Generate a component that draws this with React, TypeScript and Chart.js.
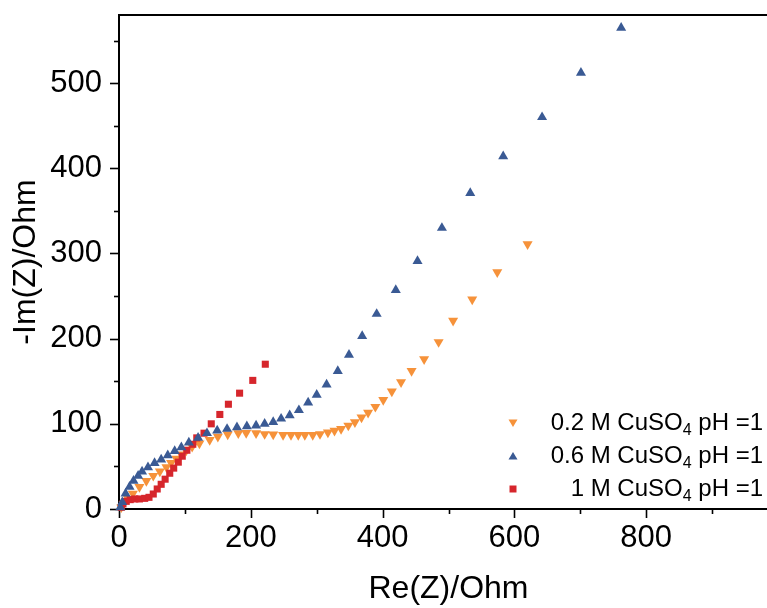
import React, { useEffect, useRef } from 'react';
import { Chart, registerables } from 'chart.js';

Chart.register(...registerables);

// 0.2 M CuSO4 pH = 1 (orange, down triangles)
const orangeRe = [3.5, 7, 14, 21, 31, 41.5, 52, 62, 72, 79, 87, 94.6, 102, 111, 122, 137.6, 150, 165, 181, 193, 208, 221, 234, 249, 261, 272, 282, 294, 305, 317, 327, 337, 348, 358, 368, 378, 389, 401, 414, 428, 444, 463, 485, 507, 536, 574, 620];
const orangeIm = [2, 6, 12, 18, 26, 33, 39, 44, 49, 54, 59, 64, 68.6, 73, 77, 81, 85, 87.5, 89, 89.4, 89, 88, 87.5, 87, 87, 87, 87, 87, 88, 90, 92, 94, 98, 102, 107.5, 113, 120, 128, 138, 149, 162, 176, 196, 221, 246, 278, 311];

// 0.6 M CuSO4 pH = 1 (blue, up triangles)
const blueRe = [2, 5, 10, 16, 22, 29, 35, 44, 54, 64, 74, 84.5, 94.6, 106, 120, 133.5, 149, 164, 179, 194, 208, 221, 234, 246, 259, 273, 287, 300, 315, 332, 349, 369, 391, 420, 453, 490, 533, 583, 642, 701, 762];
const blueIm = [2, 8, 18, 26, 33, 39, 44, 49, 54, 58, 63, 68, 72.5, 78, 83.5, 89, 92, 94, 96, 97, 98, 100, 102, 106, 110, 116, 125, 134, 146, 162, 181, 203, 229, 257, 291, 330, 371, 414, 460, 512, 565];

// 1 M CuSO4 pH = 1 (red, squares)
const redRe = [3.5, 6, 11, 17, 24, 31, 39, 45.5, 52, 58, 64, 70, 77, 83, 90, 96, 103, 112, 118, 129, 140, 153, 166, 183, 203, 222];
const redIm = [2, 6, 9, 11, 11.8, 11.8, 12.5, 13.7, 17.6, 23.5, 29, 35, 42, 48, 55, 62, 69, 76, 83.5, 89, 100, 111, 123, 136, 151, 170];

const xTickValues = [0, 200, 400, 600, 800];
const yTickValues = [0, 100, 200, 300, 400, 500];
const xMinorStep = 100;
const yMinorStep = 50;

const legendPre = ['0.2 M CuSO', '0.6 M CuSO', '1 M CuSO'];
const legendSub = ['4', '4', '4'];
const legendPost = [' pH =1', ' pH =1', ' pH =1'];

const ORANGE = '#F6923A';
const BLUE = '#3A5A94';
const RED = '#D6262C';
const FONT = '"Liberation Sans", Arial, Helvetica, sans-serif';

function toPoints(xs: number[], ys: number[]) {
  return xs.map((x, i) => ({ x, y: ys[i] }));
}

export default function App() {
  const ref = useRef<HTMLCanvasElement | null>(null);

  useEffect(() => {
    if (!ref.current) return;

    const framePlugin = {
      id: 'frame',
      beforeDatasetsDraw(chart: any) {
        const { ctx, chartArea, scales } = chart;
        const { left, right, top, bottom } = chartArea;
        ctx.save();
        ctx.strokeStyle = '#000';
        ctx.lineWidth = 2;
        ctx.beginPath();
        ctx.moveTo(left, top);
        ctx.lineTo(right, top);
        ctx.lineTo(right, bottom);
        ctx.lineTo(left, bottom);
        ctx.closePath();
        ctx.stroke();
        ctx.lineWidth = 1.6;
        const xs = scales.x;
        for (let v = xs.min; v <= xs.max + 1e-6; v += xMinorStep) {
          const px = Math.round(xs.getPixelForValue(v)) + 0.5;
          const major = Math.abs(v % 200) < 1e-6;
          ctx.beginPath();
          ctx.moveTo(px, bottom);
          ctx.lineTo(px, bottom + (major ? 9 : 5));
          ctx.stroke();
        }
        const ys = scales.y;
        for (let v = ys.min; v <= ys.max + 1e-6; v += yMinorStep) {
          const py = Math.round(ys.getPixelForValue(v)) + 0.5;
          const major = Math.abs(v % 100) < 1e-6;
          ctx.beginPath();
          ctx.moveTo(left, py);
          ctx.lineTo(left - (major ? 9 : 5), py);
          ctx.stroke();
        }
        ctx.restore();
      },
    };

    const legendPlugin = {
      id: 'customLegend',
      afterDraw(chart: any) {
        const { ctx } = chart;
        const rows = [423, 456, 489];
        const colors = [ORANGE, BLUE, RED];
        const rightX = 763;
        const markerX = 513;
        ctx.save();
        for (let i = 0; i < 3; i++) {
          const y = rows[i];
          ctx.fillStyle = colors[i];
          ctx.beginPath();
          if (i === 0) {
            ctx.moveTo(markerX - 4.5, y - 3.5);
            ctx.lineTo(markerX + 4.5, y - 3.5);
            ctx.lineTo(markerX, y + 4);
            ctx.closePath();
          } else if (i === 1) {
            ctx.moveTo(markerX - 4.5, y + 3.5);
            ctx.lineTo(markerX + 4.5, y + 3.5);
            ctx.lineTo(markerX, y - 4);
            ctx.closePath();
          } else {
            ctx.rect(markerX - 3.5, y - 3.5, 7, 7);
          }
          ctx.fill();
          ctx.fillStyle = '#000';
          ctx.textBaseline = 'middle';
          ctx.textAlign = 'left';
          const mainFont = `24px ${FONT}`;
          const subFont = `16px ${FONT}`;
          ctx.font = mainFont;
          const w1 = ctx.measureText(legendPre[i]).width;
          const w3 = ctx.measureText(legendPost[i]).width;
          ctx.font = subFont;
          const w2 = ctx.measureText(legendSub[i]).width;
          let x = rightX - (w1 + w2 + w3);
          ctx.font = mainFont;
          ctx.fillText(legendPre[i], x, y);
          x += w1;
          ctx.font = subFont;
          ctx.fillText(legendSub[i], x, y + 8);
          x += w2;
          ctx.font = mainFont;
          ctx.fillText(legendPost[i], x, y);
        }
        ctx.restore();
      },
    };

    const chart = new Chart(ref.current, {
      type: 'scatter',
      data: {
        datasets: [
          {
            label: '0.6 M CuSO4 pH =1',
            data: toPoints(blueRe, blueIm),
            pointStyle: 'triangle',
            pointRadius: 5.8,
            pointBackgroundColor: BLUE,
            pointBorderColor: BLUE,
            pointBorderWidth: 0,
            clip: false,
            order: 0,
          } as any,
          {
            label: '1 M CuSO4 pH =1',
            data: toPoints(redRe, redIm),
            pointStyle: 'rect',
            pointRadius: 5,
            pointBackgroundColor: RED,
            pointBorderColor: RED,
            pointBorderWidth: 0,
            clip: false,
            order: 1,
          } as any,
          {
            label: '0.2 M CuSO4 pH =1',
            data: toPoints(orangeRe, orangeIm),
            pointStyle: 'triangle',
            pointRotation: 180,
            pointRadius: 5.8,
            pointBackgroundColor: ORANGE,
            pointBorderColor: ORANGE,
            pointBorderWidth: 0,
            clip: false,
            order: 2,
          } as any,
        ],
      },
      options: {
        animation: false,
        responsive: true,
        maintainAspectRatio: false,
        layout: { padding: { top: 15, right: 22, left: 0, bottom: 0 } },
        plugins: {
          legend: { display: false },
          tooltip: { enabled: false },
        },
        scales: {
          x: {
            type: 'linear',
            min: 0,
            max: 1000,
            afterBuildTicks: (s: any) => {
              s.ticks = xTickValues.map((v) => ({ value: v }));
            },
            afterFit: (s: any) => {
              s.height = 99;
              s.paddingLeft = 0;
              s.paddingRight = 0;
            },
            grid: { display: false, drawTicks: false },
            border: { display: false },
            ticks: {
              color: '#000',
              font: { family: FONT, size: 31 },
              padding: 11,
              maxRotation: 0,
              autoSkip: false,
            },
            title: {
              display: true,
              text: 'Re(Z)/Ohm',
              color: '#000',
              font: { family: FONT, size: 32 },
              padding: { top: 0, bottom: 0 },
            },
          },
          y: {
            type: 'linear',
            min: 0,
            max: 580,
            afterBuildTicks: (s: any) => {
              s.ticks = yTickValues.map((v) => ({ value: v }));
            },
            afterFit: (s: any) => {
              s.width = 119;
              s.paddingTop = 0;
              s.paddingBottom = 0;
            },
            grid: { display: false, drawTicks: false },
            border: { display: false },
            ticks: {
              color: '#000',
              font: { family: FONT, size: 31 },
              padding: 17,
              autoSkip: false,
            },
            title: {
              display: true,
              text: '-Im(Z)/Ohm',
              color: '#000',
              font: { family: FONT, size: 32 },
              padding: { top: 7, bottom: 0 },
            },
          },
        },
      } as any,
      plugins: [framePlugin, legendPlugin],
    });

    return () => {
      chart.destroy();
    };
  }, []);

  return (
    <div
      style={{
        position: 'absolute',
        left: 0,
        top: 0,
        width: 767,
        height: 608,
        overflow: 'hidden',
        background: '#fff',
      }}
    >
      <div style={{ position: 'relative', width: 800, height: 608 }}>
        <canvas ref={ref} />
      </div>
    </div>
  );
}
